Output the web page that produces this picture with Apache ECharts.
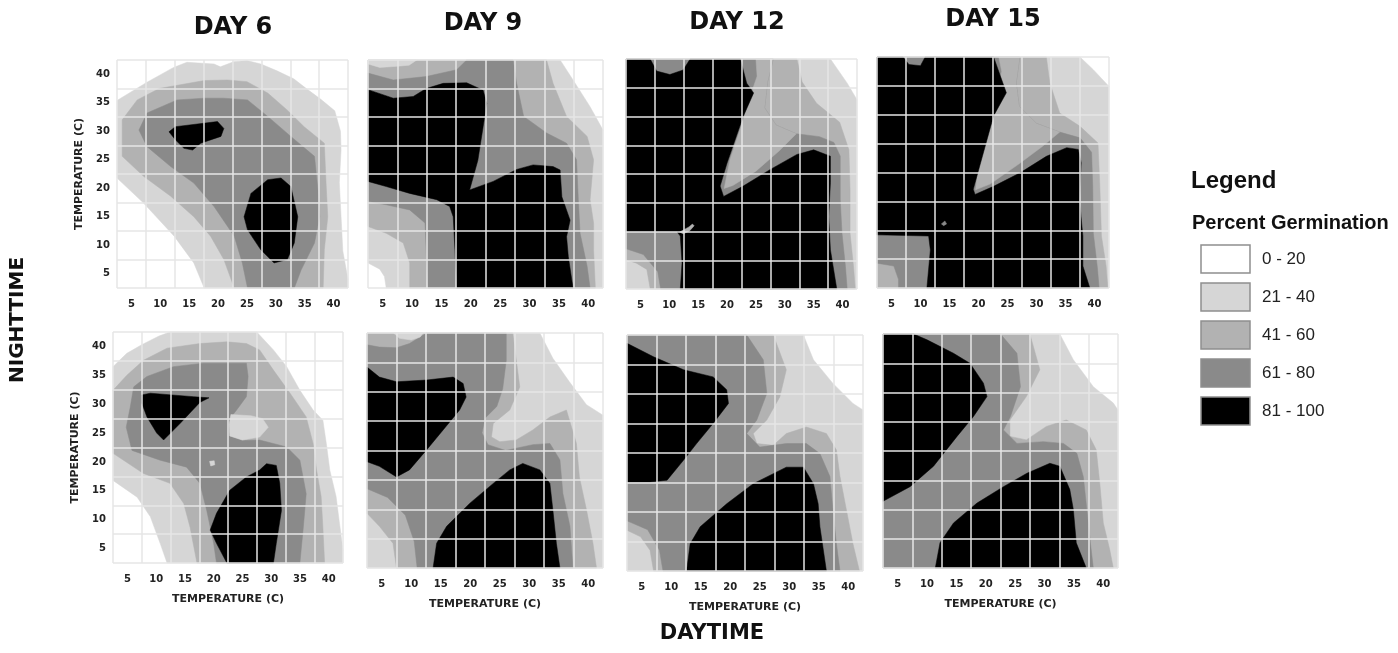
<!DOCTYPE html>
<html><head><meta charset="utf-8">
<script src="https://cdn.jsdelivr.net/npm/echarts@6/dist/echarts.min.js"></script>
<style>html,body{margin:0;padding:0;background:#fff}#c{width:1398px;height:653px}</style>
</head><body><div id="c"></div>
<script>
// ---------- data ----------
const tempTicks = ['5','10','15','20','25','30','35','40'];
const dayTitles = ['DAY 6','DAY 9','DAY 12','DAY 15'];
const levelLabels = ['0 - 20','21 - 40','41 - 60','61 - 80','81 - 100'];
const levelColors = ['#ffffff','#d6d6d6','#b2b2b2','#8a8a8a','#000000'];
// contour regions: [germination class, [[day °C, night °C], ...]], painted in order
const day6Top = [
  [1, [[2.5,35.4],[7.7,38.6],[12.3,41.2],[14.6,42.1],[19.3,41.8],[20.4,41.3],[22.7,42.2],[25,42.4],[27.4,41.8],[30.2,40.6],[33.1,39.2],[35.4,37.4],[37.8,35.6],[40.2,33.6],[41.2,30],[41.3,26.7],[41,21],[41.3,15],[41.6,9],[42.5,4],[42.5,2.5],[17.6,2.5],[15.8,6.9],[12.4,11.6],[7.1,17.4],[2.5,21.8]]],
  [2, [[3.4,32],[6,35.5],[9.8,37.5],[17.6,38.9],[21.6,39],[25,38.7],[28.6,36.7],[32,33.7],[34.9,30.8],[38.4,27.9],[38.7,20.9],[39,15],[38.4,9.2],[38.2,2.5],[22.8,2.5],[21,7.5],[18.7,11.6],[15.8,15],[11.8,18.6],[7.1,22.1],[3.4,25.6]]],
  [3, [[6.3,30.2],[7.7,33.2],[12.9,35.5],[17.6,35.8],[21,35.8],[25.1,35.5],[28.6,32.6],[32.6,29.1],[36.7,25.6],[37.3,19.7],[37.6,15],[36.7,10.4],[34.4,5.7],[33.2,2.5],[25.1,2.5],[24.2,6.9],[22.8,11.6],[19.3,16.8],[15.8,20.9],[11.8,23.8],[7.7,27.3]]],
  [4, [[11.5,29.9],[12.6,30.8],[19.9,31.7],[21,30.5],[20.5,29.1],[17,27.9],[15.6,26.7],[14.1,27],[12.6,28.5]]],
  [4, [[28.6,21.5],[30.9,21.8],[32.6,20.3],[33.8,15],[33.2,10.4],[32,7.5],[29.7,6.9],[27.4,9.2],[25.1,12.7],[24.5,15],[25.7,19.1]]]
];
const day9Top = [
  [1, [[5.6,2.5],[5.3,4.5],[4.5,5.8],[2.5,6.9],[2.5,42.5],[35.2,42.5],[37.4,39],[40.3,34.3],[42.5,30.2],[42.5,2.5]]],
  [2, [[2.5,42.5],[32.9,42.5],[34,38.4],[36.3,32.6],[39.8,29.1],[40.9,25],[40.3,18],[40.9,13.9],[40.9,9.2],[41.2,2.5],[9.6,2.5],[9.6,6.9],[8.5,10.4],[5.6,12.1],[2.5,13.3]]],
  [1, [[2.5,42.5],[2.5,41.8],[4.5,41.2],[7.5,41.4],[9.5,41.6],[10.8,42.5]]],
  [3, [[2.5,40.2],[6.8,39],[12.4,39.6],[17.6,40.8],[19.3,42.5],[27.2,42.5],[27.8,38.4],[29,32.6],[32.9,29.7],[36.3,27.9],[38,25],[38.3,18],[38.6,12.1],[39.8,6.3],[40.3,2.5],[12.7,2.5],[12.4,9.2],[12.2,13.9],[9.6,16.2],[5.6,17.1],[2.5,17.7]]],
  [4, [[2.5,37.3],[6.8,35.8],[10.2,36.1],[12.4,37.5],[15.3,38.4],[19.3,38.5],[22.1,37.2],[22.7,34.9],[22.1,30.8],[21.2,24.9],[19.8,19.7],[23.8,21.2],[27.8,23.3],[30.6,24.1],[34,23.8],[35.2,23.2],[35.5,18.5],[36.9,14.4],[36.3,11.5],[36.6,8],[37.4,2.5],[17.6,2.5],[17.3,9.2],[17,15],[16.4,16.8],[14.2,18],[9.6,19.1],[5.6,20.3],[2.5,21.2]]]
];
const day12Top = [
  [1, [[2.5,2.5],[2.5,42.5],[37.9,42.5],[40.8,38.3],[42.5,35.4],[42.5,2.5]]],
  [2, [[2.5,42.5],[32.1,42.5],[33,38.5],[35.5,34.8],[39.5,31.5],[41.1,26.7],[41.3,19.8],[41.3,12.2],[41.9,6.4],[42.2,2.5],[6.7,2.5],[6.1,5.9],[4.3,7],[2.5,7.6]]],
  [3, [[2.5,42.5],[28,42.5],[27,38.5],[26.5,34],[28.5,31],[32,29.5],[36,29],[38.5,28],[39.6,25.6],[39.6,18],[39.9,12.2],[40.5,6.4],[40.8,2.5],[8.5,2.5],[8,5.5],[5.5,8.5],[2.5,9.5]]],
  [2, [[25,42.5],[28,42.5],[27,38.5],[26.5,34],[28.5,31],[32,29.5],[29,26.5],[25,23],[21,20.5],[19.5,20],[20.5,25],[22.5,31],[24,36],[25.2,39.5]]],
  [4, [[2.5,42.5],[6.7,42.5],[7.8,40.4],[10.1,39.8],[12.4,40.6],[13.6,42.5],[22.3,42.5],[23.4,38.3],[24.6,36.6],[22.8,32.5],[20,24.4],[18.8,20.4],[19.4,18.6],[22.8,20.4],[27.5,23.3],[32.1,25.9],[35,26.7],[37.9,25.6],[37.9,21],[37.6,15.1],[37.9,9.3],[39,2.5],[11.9,2.5],[12.2,7],[11.9,11.7],[11.3,12.5],[2.5,12.5]]],
  [2, [[11.8,12.4],[13.4,13.3],[14,13.8],[14.3,13.5],[13.5,12.6],[12.4,12.1]]]
];
const day15Top = [
  [1, [[2.5,2.5],[2.5,42.5],[37.5,42.5],[39.8,40.3],[42.5,37.4],[42.5,2.5]]],
  [2, [[2.5,42.5],[31.7,42.5],[32.3,38],[34,32.8],[37.5,30.5],[40.6,27.6],[40.9,20.7],[41.2,11.5],[42,6.3],[42.3,2.5],[2.5,2.5]]],
  [3, [[2.5,42.5],[27.1,42.5],[26.5,38],[27,34],[30,31],[34,29.5],[37.5,28.5],[39.5,26],[39.7,20],[39.8,12],[40.5,6],[40.8,2.5],[6.2,2.5],[6.2,4],[5.4,6.3],[2.5,6.8]]],
  [2, [[23.5,42.5],[27.1,42.5],[26.5,38],[27,34],[30,31],[34,29.5],[31,27],[27,24],[22,20.5],[19.5,19.5],[20,24],[21.5,30],[23,36],[24,40]]],
  [4, [[2.5,42.5],[7,42.5],[8,41.2],[10,41],[10.8,42.5],[22.6,42.5],[24.8,36.3],[22.6,32.3],[19.1,19.6],[19.4,18.7],[22.6,20.1],[27.1,22.4],[31.7,25.3],[35.2,26.8],[37.2,26.5],[37.7,24.2],[37.4,17.8],[38,11.5],[38,6.3],[39.2,2.5],[11.1,2.5],[11.7,9.1],[11.4,11.5],[2.5,11.7]]],
  [3, [[13.6,13.6],[14.2,14.1],[14.5,13.6],[14,13.3]]]
];
const day6Bottom = [
  [1, [[2.5,36.5],[4.9,38.8],[7.5,40.3],[10.5,41.8],[12.4,42.5],[27.5,42.5],[30.4,39.4],[32.7,36.5],[35,32.4],[37.3,29],[39,27.2],[39.6,23.2],[40.2,18.6],[41.3,14],[41.9,9.3],[42.5,4.7],[42.5,2.5],[11.9,2.5],[10.7,5.9],[9,10.5],[6.7,13.9],[2.5,16.8]]],
  [2, [[2.5,32.4],[4.9,35],[7.8,37.6],[11.9,39.7],[17.6,40.5],[22.3,40.8],[25.7,40.5],[28,39.4],[30.4,35.9],[33.3,31.9],[36.1,27.8],[37.3,23.2],[37.9,18.6],[38.7,14],[39,8.7],[39.3,2.5],[17.1,2.5],[15.9,8.7],[14.8,12.8],[12.4,16.3],[7.8,18],[2.5,21.5]]],
  [3, [[5.5,29.5],[6.1,33],[8.4,34.8],[13,36.5],[18.2,37.1],[25.7,37.1],[26,34.8],[25.7,31.3],[24,29],[22.8,27.5],[22.8,24.5],[25,23.7],[28,23.8],[32.7,22.6],[35,20.3],[36.1,14.5],[35.6,8.7],[35,2.5],[20.5,2.5],[20,5.9],[18.8,11.6],[17.6,16.3],[15.3,19.1],[10.7,20.3],[5.8,22],[4.8,26]]],
  [1, [[23,28.2],[26.5,28],[28.5,27.5],[29.5,26],[28,24.3],[25,23.8],[22.8,24.5],[22.7,26.5]]],
  [1, [[19.3,20.1],[20.1,20.2],[20.2,19.5],[19.5,19.3]]],
  [4, [[7.5,31.6],[9,31.9],[16.5,31.3],[19.2,31.1],[17.6,30.3],[14.2,26.7],[11.3,23.8],[10.1,25],[8.4,27.8],[7.5,30.2]]],
  [4, [[29.2,19.7],[30.9,19.4],[31.5,16.3],[31.8,11.6],[30.9,5.9],[30.4,2.5],[22.3,2.5],[20.5,5.9],[19.4,8.2],[20.5,11.1],[22.8,15.1],[25.7,17.4],[28,18.6]]]
];
const day9Bottom = [
  [1, [[2.5,2.5],[2.5,42.5],[31.8,42.5],[34,38.2],[36.8,34.2],[39.7,30.3],[42.5,28.5],[42.5,2.5]]],
  [2, [[2.5,42.5],[27.2,42.5],[27.8,37.9],[28.4,33.3],[26.7,29.4],[23.9,27.1],[23.6,24.8],[25,24],[27.8,24.3],[30.6,26],[33.5,28.2],[36.3,29.4],[38,23.7],[38.5,18],[39.7,12.4],[40.8,6.7],[41.4,2.5],[7.5,2.5],[6.9,6.7],[4.6,9.6],[2.5,11.8]]],
  [3, [[2.5,40.5],[4.6,40.1],[7.5,40],[9.7,40.7],[12.6,42.5],[26.1,42.5],[26.1,37.8],[25.5,33],[24.5,30],[22.5,28],[22,25.5],[23,23.5],[26,22.5],[30.6,23.5],[33.5,23.7],[35.2,20.9],[35.7,15.2],[36.9,9.6],[37.4,2.5],[11,2.5],[10.5,7],[9,11.5],[6,14.5],[2.5,16]]],
  [1, [[7,42.5],[8,41.6],[10,41.3],[11.5,41.8],[12,42.5]]],
  [4, [[2.5,36.7],[4.6,35],[7.5,34.2],[12.6,34.5],[17.1,35],[18.8,33.9],[19.3,31.6],[18.2,29.4],[15.4,26],[12.6,22.6],[9.7,19.2],[7.5,18],[4.6,19.8],[2.5,20.6]]],
  [4, [[28.9,20.3],[31.8,19.2],[33.5,16.9],[34,12.4],[34.6,6.7],[35.2,2.5],[13.7,2.5],[14.3,6.7],[16,9.6],[19.9,13.5],[23.9,16.9],[26.7,19.2]]]
];
const day12Bottom = [
  [1, [[2.5,2.5],[2.5,42.5],[32.4,42.5],[34.1,38.3],[37.4,34.3],[40.8,30.9],[42.5,29.8],[42.5,2.5]]],
  [2, [[2.5,42.5],[27.3,42.5],[29.5,36.6],[28.4,32],[26.2,28.1],[23.9,25.8],[24.5,24.1],[27.3,23.8],[29.5,25.8],[32.9,26.9],[36.3,25.8],[38,23],[38.6,18.5],[39.7,12.8],[40.8,7.1],[41.9,2.5],[7,2.5],[6.4,6],[4.8,8.3],[2.5,9.4]]],
  [3, [[2.5,42.5],[22.8,42.5],[25.6,38.3],[26.2,32.6],[24.5,28.1],[22.8,25.8],[25,23.5],[29.5,24.1],[32.9,24.1],[35.2,22.4],[36.9,18.5],[37.4,12.8],[38,7.1],[38.6,2.5],[8.6,2.5],[8,6],[6,9.5],[2.5,11]]],
  [4, [[2.5,41.1],[7,38.8],[12.1,36.6],[17.1,35.4],[19.4,33.2],[19.7,30.9],[17.1,27.5],[14.3,24.1],[12.1,21.3],[9.3,17.9],[6.4,17.6],[2.5,17.6]]],
  [4, [[29.5,20.1],[32.4,20.1],[34.1,17.3],[34.9,13.9],[35.2,10],[36.3,2.5],[12.6,2.5],[13.2,7.1],[14.9,10],[19.4,13.9],[23.9,17.3],[27.3,19]]]
];
const day15Bottom = [
  [1, [[2.5,2.5],[2.5,42.5],[32.6,42.5],[34.9,38.1],[38.3,33.5],[41.7,30.7],[42.5,29.5],[42.5,2.5]]],
  [2, [[2.5,42.5],[27.5,42.5],[29.2,36.4],[26.9,31.8],[24.1,27.8],[24.1,25],[26.9,24.4],[30.3,26.7],[33.7,27.8],[37.1,26.1],[38.8,22.7],[39.4,17],[40,10.2],[41.1,5.6],[41.7,2.5],[2.5,2.5]]],
  [3, [[2.5,42.5],[22.5,42.5],[25.3,39.2],[25.9,33.5],[24.2,28.4],[23,26.1],[25.3,23.8],[29.8,24.1],[33.2,23.8],[35.5,22.1],[36.6,18.1],[37.2,12.5],[37.8,6.8],[38.3,2.5],[2.5,2.5]]],
  [4, [[2.5,42.5],[7.7,42.5],[10,41.5],[14.5,39.2],[17.3,37.5],[19.6,34.1],[20.2,31.8],[17.9,28.4],[15.1,25],[11.1,19.9],[7.1,16.4],[2.5,13.9]]],
  [4, [[30.9,20.4],[32.6,19.9],[34.3,15.9],[34.9,12.5],[35.4,6.8],[37.1,2.5],[11.4,2.5],[12.2,6.8],[14.5,10.2],[18.5,13.6],[23,16.4],[27,18.7]]]
];

// ---------- layout ----------
const panelShapes = [day6Top, day9Top, day12Top, day15Top, day6Bottom, day9Bottom, day12Bottom, day15Bottom];
const panelRects = [
  [117,60,231,228],[368,60,235,228],[626,59,231,230],[877,57,232,231],
  [113,332,230,231],[367,333,236,235],[627,335,236,236],[883,334,235,234]
];
const titlePos = [[233,28],[483,24],[737,23],[993,20]];

const tickFont = {fontFamily:'DejaVu Sans', fontWeight:'bold', fontSize:10, color:'#222'};
const nameFont = {fontFamily:'DejaVu Sans', fontWeight:'bold', fontSize:11, color:'#222'};
const grid = [], xAxis = [], yAxis = [], series = [];
panelRects.forEach((r, i) => {
  const row = i < 4 ? 0 : 1, col = i % 4;
  grid.push({left:r[0], top:r[1], width:r[2], height:r[3]});
  xAxis.push({gridIndex:i, type:'value', min:2.5, max:42.5, show:false});
  yAxis.push({gridIndex:i, type:'value', min:2.5, max:42.5, show:false});
  xAxis.push({gridIndex:i, type:'category', data:tempTicks, boundaryGap:true, position:'bottom', z:5,
    axisLine:{show:false}, axisTick:{show:false},
    axisLabel:Object.assign({margin:11, interval:0}, tickFont),
    splitLine:{show:true, interval:0, lineStyle:{color:'#e6e6e6', width:1.5}},
    name: row === 1 ? 'TEMPERATURE (C)' : '', nameLocation:'middle', nameGap:31, nameTextStyle:nameFont});
  yAxis.push({gridIndex:i, type:'category', data:tempTicks, boundaryGap:true, position:'left', z:5,
    axisLine:{show:false}, axisTick:{show:false},
    axisLabel:Object.assign({show: col === 0, margin:7, interval:0}, tickFont),
    splitLine:{show:true, interval:0, lineStyle:{color:'#e6e6e6', width:1.5}},
    name: col === 0 ? 'TEMPERATURE (C)' : '', nameLocation:'middle', nameRotate:90, nameGap:32, nameTextStyle:nameFont});
  const shapes = panelShapes[i];
  series.push({
    type:'custom', xAxisIndex:2*i, yAxisIndex:2*i, silent:true, animation:false, z:2,
    data: shapes.map((s, k) => [22.5, 22.5, k]),
    renderItem: function (params, api) {
      const s = shapes[api.value(2)];
      return {type:'polygon', shape:{points: s[1].map(p => api.coord(p))},
              style:{fill: levelColors[s[0]], stroke: levelColors[s[0]], lineWidth:0.5}};
    }
  });
});

const graphic = [];
dayTitles.forEach((t, i) => graphic.push({type:'text', x:titlePos[i][0], y:titlePos[i][1],
  style:{text:t, fontFamily:'DejaVu Sans', fontWeight:'bold', fontSize:24, fill:'#111', align:'center', verticalAlign:'middle'}}));
graphic.push({type:'text', x:18, y:320, rotation:Math.PI/2,
  style:{text:'NIGHTTIME', fontFamily:'DejaVu Sans', fontWeight:'bold', fontSize:20, fill:'#111', align:'center', verticalAlign:'middle'}});
graphic.push({type:'text', x:712, y:634,
  style:{text:'DAYTIME', fontFamily:'DejaVu Sans', fontWeight:'bold', fontSize:21, fill:'#111', align:'center', verticalAlign:'middle'}});
graphic.push({type:'text', x:1191, y:181,
  style:{text:'Legend', fontFamily:'Liberation Sans', fontWeight:'bold', fontSize:24, fill:'#111', verticalAlign:'middle'}});
graphic.push({type:'text', x:1192, y:223,
  style:{text:'Percent Germination', fontFamily:'Liberation Sans', fontWeight:'bold', fontSize:20, fill:'#111', verticalAlign:'middle'}});
levelLabels.forEach((t, k) => {
  graphic.push({type:'rect', shape:{x:1201, y:245 + 38*k, width:49, height:28},
    style:{fill:levelColors[k], stroke:'#8f8f8f', lineWidth:1.5}});
  graphic.push({type:'text', x:1262, y:259 + 38*k,
    style:{text:t, fontFamily:'Liberation Sans', fontSize:17, fill:'#222', verticalAlign:'middle'}});
});

const chart = echarts.init(document.getElementById('c'));
chart.setOption({animation:false, backgroundColor:'#fff', grid, xAxis, yAxis, series, graphic});
</script>
</body></html>
